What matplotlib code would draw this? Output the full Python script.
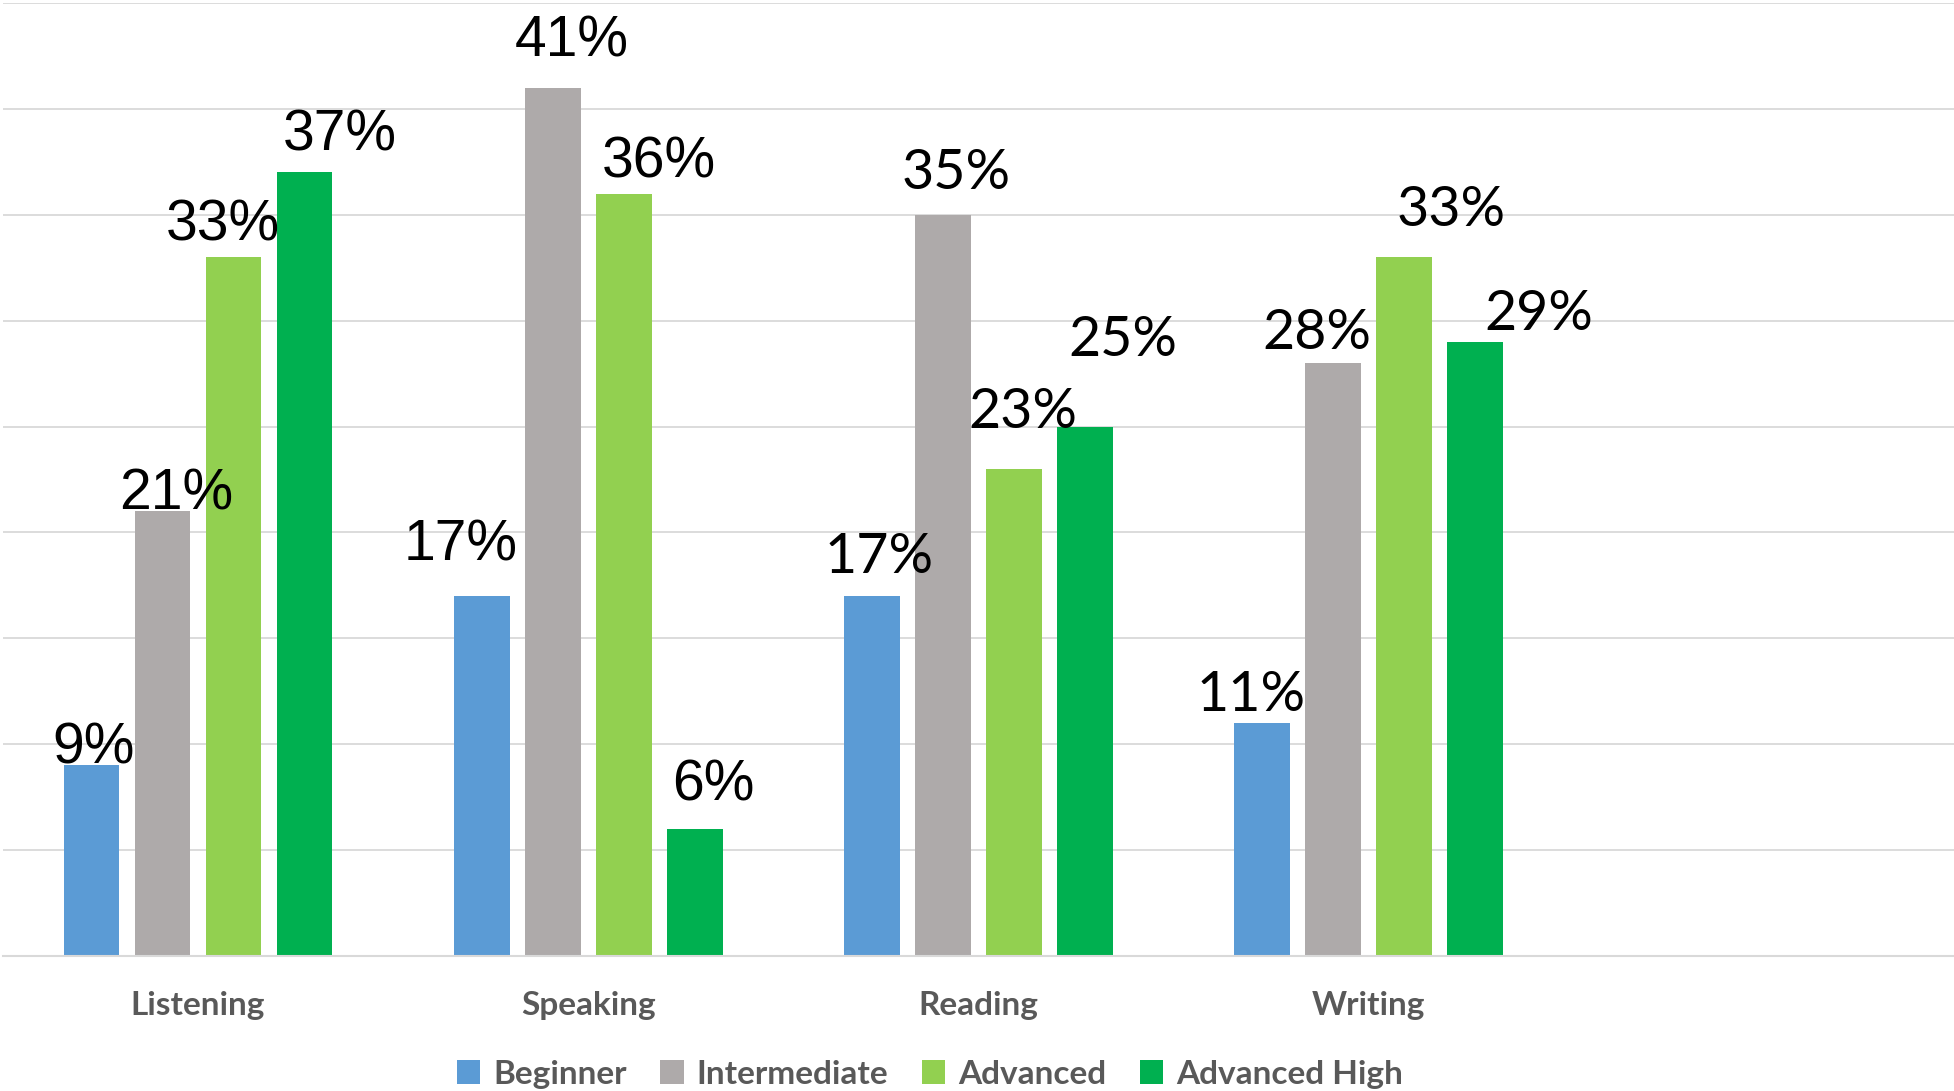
import numpy as np
import matplotlib.pyplot as plt

# categories and series
skills = ["Listening", "Speaking", "Reading", "Writing"]
levels = ["Beginner", "Intermediate", "Advanced", "Advanced High"]
beginner = [0.09, 0.17, 0.17, 0.11]
intermediate = [0.21, 0.41, 0.35, 0.28]
advanced = [0.33, 0.36, 0.23, 0.33]
advanced_high = [0.37, 0.06, 0.25, 0.29]

colors = ["#5B9BD5", "#AEAAAA", "#92D050", "#00B050"]

# label nudges (pixels) from the top of each bar, per skill, per level
nudge = [
    [(2, 17), (14, 17), (-11, 32), (35, 37)],
    [(-21, 50), (19, 46), (35, 31), (19, 43)],
    [(7, 38), (13, 41), (9, 56), (38, 86)],
    [(-11, 28), (-16, 30), (47, 47), (64, 27)],
]
label_font = [["Liberation Sans"] * 4, ["Liberation Sans"] * 4, ["Lato"] * 4, ["Lato"] * 4]

series = [beginner, intermediate, advanced, advanced_high]

fig = plt.figure(figsize=(19.54, 10.91), dpi=100)
ax = fig.add_axes([0.0015, 0.1237, 0.9985, 0.8736])

x = np.arange(len(skills))
pitch = 0.182
width = 0.143
for j, vals in enumerate(series):
    xs = x + (j - 1.5) * pitch
    ax.bar(xs, vals, width, color=colors[j], label=levels[j], zorder=2)
    for i, v in enumerate(vals):
        dx, dy = nudge[i][j]
        fam = label_font[i][j]
        ax.annotate(f"{round(v * 100)}%", xy=(xs[i], v), xytext=(dx, dy),
                    textcoords="offset pixels", ha="center", va="center",
                    fontsize=41 if fam == "Liberation Sans" else 40,
                    family=fam, color="black", zorder=3)

ax.set_xlim(-0.5, 4.5)
ax.set_ylim(0, 0.45)
ax.set_yticks(np.arange(0, 0.451, 0.05))
ax.yaxis.grid(True, color="#D9D9D9", linewidth=1.3, zorder=0)
ax.tick_params(axis="y", left=False, labelleft=False)
ax.set_xticks(x)
ax.set_xticklabels(skills, fontsize=24, fontweight="bold", family="Lato", color="#595959")
ax.tick_params(axis="x", length=0, pad=25)
for s in ["top", "right", "left"]:
    ax.spines[s].set_visible(False)
ax.spines["bottom"].set_color("#D9D9D9")
ax.spines["bottom"].set_linewidth(1.5)

leg = fig.legend(loc="center", bbox_to_anchor=(0.476, 0.0155), ncol=4, frameon=False,
                 handlelength=0.7, handleheight=0.7, handletextpad=0.4, columnspacing=1.0,
                 prop={"family": "Lato", "weight": "bold", "size": 24})
for t in leg.get_texts():
    t.set_color("#595959")

fig.savefig("out.png", dpi=100)
